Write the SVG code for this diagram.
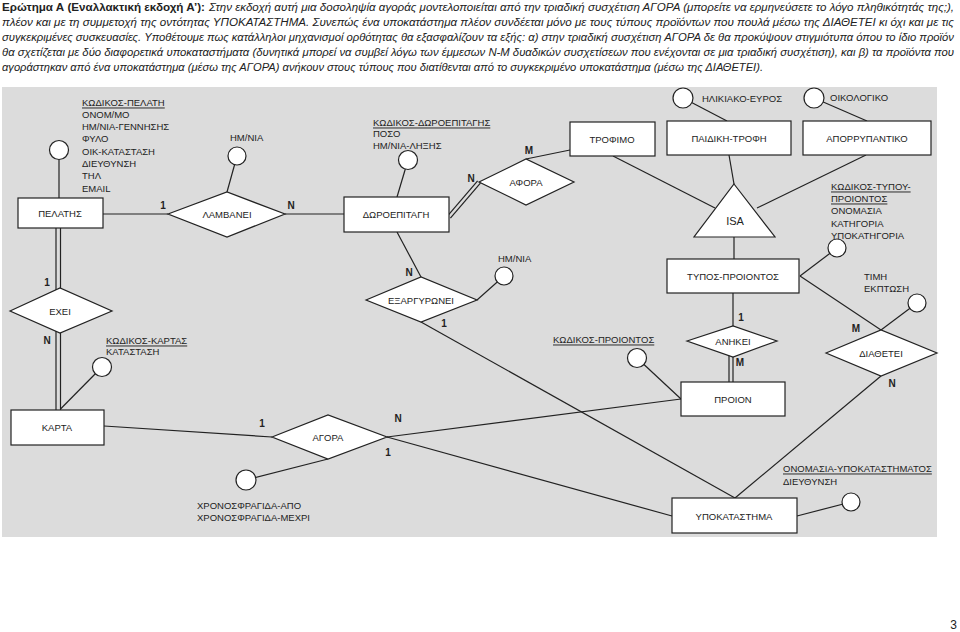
<svg xmlns="http://www.w3.org/2000/svg" width="960" height="632" viewBox="0 0 960 632">
<style>
.hd{font-family:"Liberation Sans",Arial,sans-serif;font-size:11px;fill:#222}
.b{font-weight:bold}
.i{font-style:italic}
.t{font-family:"Liberation Sans",Arial,sans-serif;font-size:9.5px;fill:#222;dominant-baseline:central}
.m{text-anchor:middle}
.u{text-decoration:underline}
.k{font-family:"Liberation Sans",Arial,sans-serif;font-size:10px;font-weight:bold;fill:#222;text-anchor:middle;dominant-baseline:central}
.s{fill:#fff;stroke:#222;stroke-width:1.2}
.ln{stroke:#222;stroke-width:1.2;fill:none}
</style>
<rect x="0" y="0" width="960" height="632" fill="#fff"/>
<g id="header">
<text class="hd b" x="2" y="11" textLength="203" lengthAdjust="spacingAndGlyphs">Ερώτημα Α (Εναλλακτική εκδοχή Α’):</text>
<text class="hd i" x="209" y="11" textLength="745" lengthAdjust="spacingAndGlyphs">Στην εκδοχή αυτή μια δοσοληψία αγοράς μοντελοποιείται από την τριαδική συσχέτιση ΑΓΟΡΑ (μπορείτε να ερμηνεύσετε το λόγο πληθικότητάς της;),</text>
<text class="hd i" x="2" y="26" textLength="952" lengthAdjust="spacingAndGlyphs">πλέον και με τη συμμετοχή της οντότητας ΥΠΟΚΑΤΑΣΤΗΜΑ. Συνεπώς ένα υποκατάστημα πλέον συνδέεται μόνο με τους τύπους προϊόντων που πουλά μέσω της ΔΙΑΘΕΤΕΙ κι όχι και με τις</text>
<text class="hd i" x="2" y="41" textLength="952" lengthAdjust="spacingAndGlyphs">συγκεκριμένες συσκευασίες. Υποθέτουμε πως κατάλληλοι μηχανισμοί ορθότητας θα εξασφαλίζουν τα εξής: α) στην τριαδική συσχέτιση ΑΓΟΡΑ δε θα προκύψουν στιγμιότυπα όπου το ίδιο προϊόν</text>
<text class="hd i" x="2" y="56" textLength="952" lengthAdjust="spacingAndGlyphs">θα σχετίζεται με δύο διαφορετικά υποκαταστήματα (δυνητικά μπορεί να συμβεί λόγω των έμμεσων Ν-Μ δυαδικών συσχετίσεων που ενέχονται σε μια τριαδική συσχέτιση), και β) τα προϊόντα που</text>
<text class="hd i" x="2" y="71" textLength="761" lengthAdjust="spacingAndGlyphs">αγοράστηκαν από ένα υποκατάστημα (μέσω της ΑΓΟΡΑ) ανήκουν στους τύπους που διατίθενται από το συγκεκριμένο υποκατάστημα (μέσω της ΔΙΑΘΕΤΕΙ).</text>
</g>
<rect id="panel" x="2" y="87" width="935" height="450" fill="#dcdcdc"/>
<g id="connectors">
<line class="ln" x1="59" y1="150" x2="59" y2="198"/>
<line class="ln" x1="103" y1="214" x2="168" y2="214"/>
<line class="ln" x1="285" y1="214" x2="344" y2="214"/>
<line class="ln" x1="237" y1="156" x2="227" y2="192"/>
<line class="ln" x1="56" y1="228" x2="56" y2="300"/>
<line class="ln" x1="60.5" y1="228" x2="60.5" y2="300"/>
<line class="ln" x1="56" y1="320" x2="56" y2="410"/>
<line class="ln" x1="60.5" y1="320" x2="60.5" y2="410"/>
<line class="ln" x1="102" y1="367" x2="60.5" y2="409"/>
<line class="ln" x1="104" y1="426" x2="272" y2="437"/>
<line class="ln" x1="328" y1="459" x2="246" y2="480"/>
<line class="ln" x1="387" y1="437" x2="681" y2="399"/>
<line class="ln" x1="387" y1="437" x2="672" y2="516"/>
<line class="ln" x1="408" y1="160" x2="397" y2="197"/>
<line class="ln" x1="397" y1="232" x2="421" y2="277"/>
<line class="ln" x1="447.6" y1="215.8" x2="477.6" y2="180.8"/>
<line class="ln" x1="450.4" y1="218.2" x2="480.4" y2="183.2"/>
<line class="ln" x1="526" y1="159" x2="570" y2="150"/>
<line class="ln" x1="504" y1="276" x2="477" y2="300"/>
<line class="ln" x1="421" y1="322" x2="735" y2="498"/>
<line class="ln" x1="637" y1="358" x2="681" y2="399"/>
<line class="ln" x1="613" y1="156" x2="715" y2="208"/>
<line class="ln" x1="729" y1="155" x2="734" y2="184"/>
<line class="ln" x1="866" y1="155" x2="757" y2="208"/>
<line class="ln" x1="683" y1="98" x2="727" y2="121"/>
<line class="ln" x1="814" y1="98" x2="867" y2="121"/>
<line class="ln" x1="734" y1="237" x2="734" y2="259"/>
<line class="ln" x1="733" y1="293" x2="733" y2="326"/>
<line class="ln" x1="729" y1="352" x2="729" y2="382"/>
<line class="ln" x1="733" y1="352" x2="733" y2="382"/>
<line class="ln" x1="800" y1="276" x2="837" y2="248"/>
<line class="ln" x1="800" y1="276" x2="881" y2="330"/>
<line class="ln" x1="917" y1="303" x2="881" y2="330"/>
<line class="ln" x1="881" y1="376" x2="735" y2="498"/>
<line class="ln" x1="797" y1="516" x2="851" y2="502"/>
</g>
<g id="attr-circles">
<circle class="s" cx="59" cy="150" r="9.5"/>
<circle class="s" cx="237" cy="156" r="9"/>
<circle class="s" cx="408" cy="160" r="9.5"/>
<circle class="s" cx="504" cy="276" r="9"/>
<circle class="s" cx="102" cy="367" r="9.5"/>
<circle class="s" cx="246" cy="480" r="10"/>
<circle class="s" cx="637" cy="358" r="9.5"/>
<circle class="s" cx="683" cy="98" r="10"/>
<circle class="s" cx="814" cy="98" r="10"/>
<circle class="s" cx="837" cy="248" r="9"/>
<circle class="s" cx="917" cy="303" r="9"/>
<circle class="s" cx="851" cy="502" r="9"/>
</g>
<g id="pelatis"><rect class="s" x="18" y="198" width="85" height="30"/><text class="t m" x="60" y="213">ΠΕΛΑΤΗΣ</text></g>
<g id="lamvanei"><polygon class="s" points="168,214 227,192 285,214 227,237"/><text class="t m" x="227" y="214">ΛΑΜΒΑΝΕΙ</text></g>
<g id="doroepitagi"><rect class="s" x="344" y="197" width="105" height="35"/><text class="t m" x="396" y="214">ΔΩΡΟΕΠΙΤΑΓΗ</text></g>
<g id="afora"><polygon class="s" points="479,182 526,159 574,182 526,205"/><text class="t m" x="526" y="182">ΑΦΟΡΑ</text></g>
<g id="trofimo"><rect class="s" x="570" y="122" width="85" height="34"/><text class="t m" x="612" y="139">ΤΡΟΦΙΜΟ</text></g>
<g id="paidiki-trofi"><rect class="s" x="667" y="121" width="124" height="34"/><text class="t m" x="729" y="138">ΠΑΙΔΙΚΗ-ΤΡΟΦΗ</text></g>
<g id="aporrypantiko"><rect class="s" x="803" y="121" width="128" height="34"/><text class="t m" x="867" y="138">ΑΠΟΡΡΥΠΑΝΤΙΚΟ</text></g>
<g id="isa"><polygon class="s" points="734,184 775,237 694,237"/><text class="t m" x="735" y="221" style="font-size:11px">ISA</text></g>
<g id="typos-proiontos"><rect class="s" x="667" y="259" width="132" height="34"/><text class="t m" x="733" y="276">ΤΥΠΟΣ-ΠΡΟΙΟΝΤΟΣ</text></g>
<g id="anikei"><polygon class="s" points="687,341 733,326 777,341 733,357"/><text class="t m" x="733" y="341">ΑΝΗΚΕΙ</text></g>
<g id="proion"><rect class="s" x="681" y="382" width="104" height="34"/><text class="t m" x="733" y="399">ΠΡΟΙΟΝ</text></g>
<g id="diathetei"><polygon class="s" points="826,353 881,330 937,353 881,376"/><text class="t m" x="881" y="353">ΔΙΑΘΕΤΕΙ</text></g>
<g id="ypokatastima"><rect class="s" x="672" y="498" width="125" height="35"/><text class="t m" x="734" y="516">ΥΠΟΚΑΤΑΣΤΗΜΑ</text></g>
<g id="exei"><polygon class="s" points="10,311 60,288 112,311 60,333"/><text class="t m" x="60" y="311">ΕΧΕΙ</text></g>
<g id="karta"><rect class="s" x="11" y="410" width="93" height="35"/><text class="t m" x="57" y="427">ΚΑΡΤΑ</text></g>
<g id="agora"><polygon class="s" points="272,437 328,415 387,437 328,459"/><text class="t m" x="328" y="437">ΑΓΟΡΑ</text></g>
<g id="exargyronei"><polygon class="s" points="366,300 421,277 477,300 421,322"/><text class="t m" x="421" y="300">ΕΞΑΡΓΥΡΩΝΕΙ</text></g>
<g id="attributes">
<text class="t u" x="82" y="102">ΚΩΔΙΚΟΣ-ΠΕΛΑΤΗ</text>
<text class="t" x="82" y="114.3">ΟΝΟΜ/ΜΟ</text>
<text class="t" x="82" y="126.6">ΗΜ/ΝΙΑ-ΓΕΝΝΗΣΗΣ</text>
<text class="t" x="82" y="138.9">ΦΥΛΟ</text>
<text class="t" x="82" y="151.2">ΟΙΚ-ΚΑΤΑΣΤΑΣΗ</text>
<text class="t" x="82" y="163.5">ΔΙΕΥΘΥΝΣΗ</text>
<text class="t" x="82" y="175.8">ΤΗΛ</text>
<text class="t" x="82" y="188.1">EMAIL</text>
<text class="t" x="230" y="137">ΗΜ/ΝΙΑ</text>
<text class="t u" x="373" y="122">ΚΩΔΙΚΟΣ-ΔΩΡΟΕΠΙΤΑΓΗΣ</text>
<text class="t" x="373" y="133.5">ΠΟΣΟ</text>
<text class="t" x="373" y="145">ΗΜ/ΝΙΑ-ΛΗΞΗΣ</text>
<text class="t" x="498" y="258">ΗΜ/ΝΙΑ</text>
<text class="t u" x="553" y="339">ΚΩΔΙΚΟΣ-ΠΡΟΙΟΝΤΟΣ</text>
<text class="t u" x="106" y="340">ΚΩΔΙΚΟΣ-ΚΑΡΤΑΣ</text>
<text class="t" x="106" y="351">ΚΑΤΑΣΤΑΣΗ</text>
<text class="t" x="197" y="505">ΧΡΟΝΟΣΦΡΑΓΙΔΑ-ΑΠΟ</text>
<text class="t" x="197" y="517">ΧΡΟΝΟΣΦΡΑΓΙΔΑ-ΜΕΧΡΙ</text>
<text class="t" x="702" y="98">ΗΛΙΚΙΑΚΟ-ΕΥΡΟΣ</text>
<text class="t" x="830" y="97">ΟΙΚΟΛΟΓΙΚΟ</text>
<text class="t u" x="831" y="186">ΚΩΔΙΚΟΣ-ΤΥΠΟΥ-</text>
<text class="t u" x="831" y="198">ΠΡΟΙΟΝΤΟΣ</text>
<text class="t" x="831" y="210.5">ΟΝΟΜΑΣΙΑ</text>
<text class="t" x="831" y="223">ΚΑΤΗΓΟΡΙΑ</text>
<text class="t" x="831" y="235.5">ΥΠΟΚΑΤΗΓΟΡΙΑ</text>
<text class="t" x="864" y="276">ΤΙΜΗ</text>
<text class="t" x="864" y="288">ΕΚΠΤΩΣΗ</text>
<text class="t u" x="783" y="468">ΟΝΟΜΑΣΙΑ-ΥΠΟΚΑΤΑΣΤΗΜΑΤΟΣ</text>
<text class="t" x="783" y="481">ΔΙΕΥΘΥΝΣΗ</text>
</g>
<g id="cardinalities">
<text class="k" x="163" y="205">1</text>
<text class="k" x="291" y="205">N</text>
<text class="k" x="47" y="282">1</text>
<text class="k" x="47" y="340">N</text>
<text class="k" x="471" y="178">N</text>
<text class="k" x="529" y="150">M</text>
<text class="k" x="409" y="272">N</text>
<text class="k" x="444" y="323">1</text>
<text class="k" x="262" y="423">1</text>
<text class="k" x="398" y="418">N</text>
<text class="k" x="388" y="452">1</text>
<text class="k" x="741" y="317">1</text>
<text class="k" x="740" y="362">M</text>
<text class="k" x="856" y="328">M</text>
<text class="k" x="892" y="383">N</text>
</g>
<text class="hd" x="957" y="629" text-anchor="end" style="font-size:12px">3</text>
</svg>
